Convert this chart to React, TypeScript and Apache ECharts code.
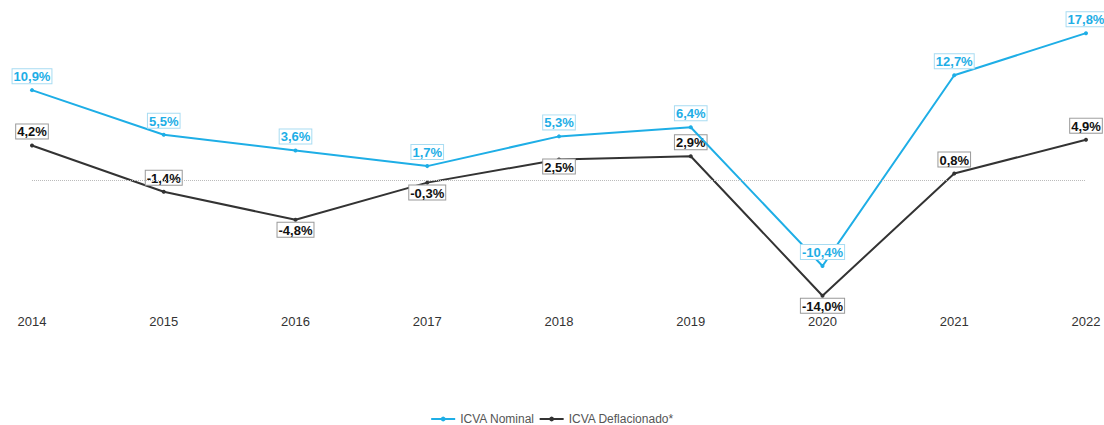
import React, { useEffect, useRef } from "react";
import * as echarts from "echarts";

const years = ["2014", "2015", "2016", "2017", "2018", "2019", "2020", "2021", "2022"];
const nominal = [10.9, 5.5, 3.6, 1.7, 5.3, 6.4, -10.4, 12.7, 17.8];
const deflated = [4.2, -1.4, -4.8, -0.3, 2.5, 2.9, -14.0, 0.8, 4.9];
const deflatedLabelPos = ["top", "top", "bottom", "bottom", "bottom", "top", "bottom", "top", "top"];

const BLUE = "#1eaee6";
const DARK = "#333333";
const FONT = "Arial, 'Liberation Sans', sans-serif";

const fmt = (v: number) => v.toFixed(1).replace(".", ",") + "%";

export default function App() {
  const ref = useRef<HTMLDivElement>(null);
  useEffect(() => {
    document.body.style.margin = "0";
    document.body.style.overflow = "hidden";
    if (!ref.current) return;
    const chart = echarts.init(ref.current, undefined, { renderer: "svg" });
    const baseLabel = {
      show: true,
      fontFamily: FONT,
      fontSize: 13,
      fontWeight: "bold" as const,
      backgroundColor: "#ffffff",
      borderWidth: 1,
      padding: [1, 1, 0, 1],
      distance: 5,
      formatter: (p: any) => fmt(p.value),
    };
    chart.setOption({
      animation: false,
      textStyle: { fontFamily: FONT },
      grid: { left: 32, right: 18, top: 15, bottom: 121, containLabel: false },
      xAxis: {
        type: "category",
        data: years,
        boundaryGap: false,
        axisLine: { show: false },
        axisTick: { show: false },
        axisLabel: { color: "#333", fontSize: 13, margin: 11, fontFamily: FONT },
      },
      yAxis: {
        type: "value",
        min: -15,
        max: 20,
        show: false,
        splitLine: { show: false },
      },
      legend: {
        bottom: 0,
        left: "center",
        padding: [0, 5, 0, 5],
        itemWidth: 24,
        itemHeight: 6,
        itemGap: 4,
        textStyle: { color: "#555", fontSize: 12, fontFamily: FONT },
        data: ["ICVA Nominal", "ICVA Deflacionado*"],
      },
      series: [
        {
          name: "ICVA Nominal",
          type: "line",
          data: nominal,
          color: BLUE,
          symbol: "circle",
          symbolSize: 4,
          lineStyle: { width: 2, color: BLUE },
          label: { ...baseLabel, position: "top", color: BLUE, borderColor: "#a8dcf2" },
          markLine: {
            silent: true,
            symbol: ["none", "none"],
            label: { show: false },
            lineStyle: { type: "dotted", color: "#bbbbbb", width: 1 },
            data: [{ yAxis: 0 }],
          },
          z: 3,
        },
        {
          name: "ICVA Deflacionado*",
          type: "line",
          data: deflated.map((v, i) => ({
            value: v,
            label: {
              position: deflatedLabelPos[i],
              distance: i === 4 ? -2 : deflatedLabelPos[i] === "bottom" ? 1 : 5,
            },
          })),
          color: DARK,
          symbol: "circle",
          symbolSize: 4,
          lineStyle: { width: 2, color: DARK },
          label: { ...baseLabel, position: "top", color: "#111", borderColor: "#999999" },
          z: 2,
        },
      ],
    });
    return () => chart.dispose();
  }, []);
  return <div ref={ref} style={{ width: 1104, height: 425 }} />;
}
